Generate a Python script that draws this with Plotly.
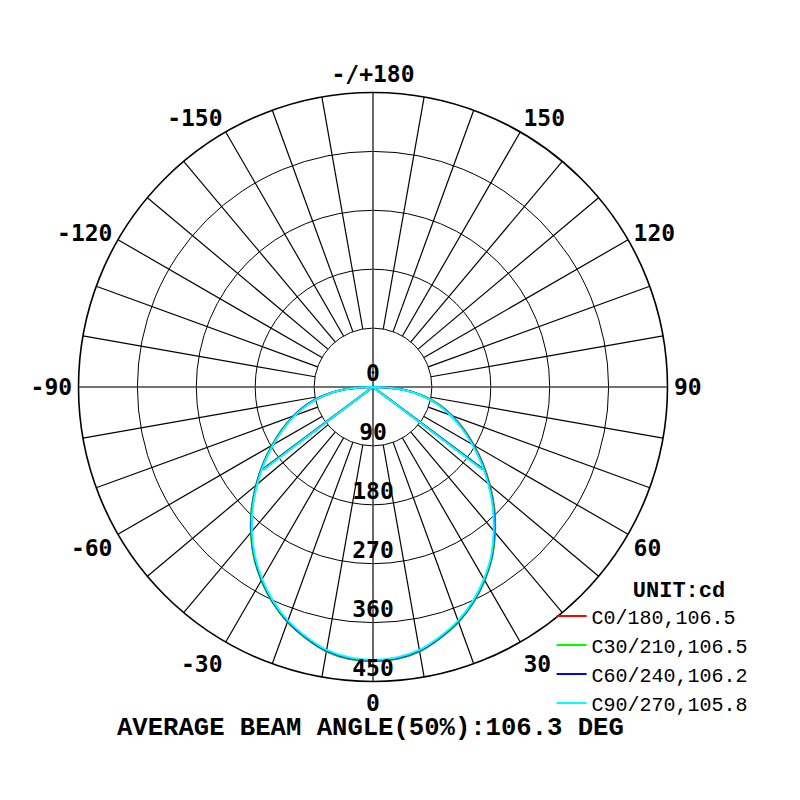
import plotly.graph_objects as go

# gamma angles (deg), negative side = C180/210/240/270 half, positive = C0/30/60/90 half
gamma = [-90, -85, -80, -75, -70, -65, -60, -55, -50, -45, -40, -35, -30, -25, -20, -15, -10, -5,
         0, 5, 10, 15, 20, 25, 30, 35, 40, 45, 50, 55, 60, 65, 70, 75, 80, 85, 90]

# intensities (cd)
c0_180 = [0, 46, 78, 105, 129, 153, 178, 205, 233, 262, 290, 317, 341, 363, 382, 397, 410, 417,
          419, 417, 410, 397, 382, 363, 341, 317, 290, 262, 233, 205, 178, 153, 129, 105, 78, 46, 0]
c30_210 = [0, 46, 78, 105, 129, 153, 178, 205, 233, 262, 290, 317, 341, 363, 382, 397, 410, 417,
           419, 417, 410, 397, 382, 363, 341, 317, 289, 261, 232, 204, 177, 152, 128, 104, 77, 45, 0]
c60_240 = [0, 45, 77, 104, 128, 152, 177, 204, 232, 261, 289, 316, 340, 362, 381, 396, 409, 416,
           418, 416, 409, 396, 381, 362, 340, 316, 288, 260, 231, 203, 176, 151, 127, 103, 76, 45, 0]
c90_270 = [0, 45, 76, 103, 127, 151, 176, 203, 231, 260, 288, 315, 339, 361, 380, 395, 408, 415,
           417, 415, 408, 395, 380, 361, 339, 315, 287, 259, 230, 202, 175, 150, 126, 102, 75, 44, 0]

names = ["C0/180,106.5", "C30/210,106.5", "C60/240,106.2", "C90/270,105.8"]
beam = [106.5, 106.5, 106.2, 105.8]
colors = ["#ff0000", "#00ff00", "#0000ff", "#00ffff"]

ring_vals = [90, 180, 270, 360, 450]
ring_text = ["0", "90", "180", "270", "360", "450"]
ang_ticks = [0, 30, 60, 90, 120, 150, 180, 210, 240, 270, 300, 330]
ang_text = ["0", "30", "60", "90", "120", "150", "-/+180", "-150", "-120", "-90", "-60", "-30"]

fig = go.Figure()

# spokes every 10 deg, from the inner ring out (main axes go through the centre)
sp_t, sp_r = [], []
for a in range(0, 360, 10):
    if a % 90 == 0:
        continue
    sp_t += [a, a, None]
    sp_r += [ring_vals[0], ring_vals[-1], None]
fig.add_trace(go.Scatterpolar(r=sp_r, theta=sp_t, mode="lines", line=dict(color="black", width=1.2),
                              showlegend=False, hoverinfo="skip"))
ax_t, ax_r = [], []
for a in [0, 90, 180, 270]:
    ax_t += [a, a, None]
    ax_r += [0, ring_vals[-1], None]
fig.add_trace(go.Scatterpolar(r=ax_r, theta=ax_t, mode="lines", line=dict(color="#444", width=1.6),
                              showlegend=False, hoverinfo="skip"))

for vals, nm, bw, col in zip([c0_180, c30_210, c60_240, c90_270], names, beam, colors):
    fig.add_trace(go.Scatterpolar(r=vals, theta=gamma, mode="lines", name=nm,
                                  line=dict(color=col, width=2, shape="spline")))
    half = max(vals) / 2
    fig.add_trace(go.Scatterpolar(r=[half, 0, half], theta=[-bw / 2, 0, bw / 2], mode="lines",
                                  line=dict(color=col, width=2), showlegend=False, hoverinfo="skip"))

# radial labels along the 0 deg axis
fig.add_trace(go.Scatterpolar(r=[0] + ring_vals, theta=[0] * 6, mode="text", text=ring_text,
                              textposition="top center", showlegend=False, hoverinfo="skip",
                              textfont=dict(family="DejaVu Sans Mono", size=23, color="black",
                                            weight="bold")))

fig.update_layout(
    width=800, height=800,
    paper_bgcolor="white",
    margin=dict(l=0, r=0, t=0, b=0),
    font=dict(family="DejaVu Sans Mono", size=23, color="black"),
    polar=dict(
        domain=dict(x=[0.088125, 0.824375], y=[0.158125, 0.894375]),
        bgcolor="white",
        radialaxis=dict(range=[0, 450], tickvals=ring_vals, showticklabels=False, ticks="",
                        showgrid=True, gridcolor="black", gridwidth=1.2, showline=False),
        angularaxis=dict(rotation=-90, direction="counterclockwise", tickmode="array",
                         tickvals=ang_ticks, ticktext=ang_text, showgrid=False,
                         showline=True, linecolor="black", linewidth=1.6,
                         ticks="outside", ticklen=1, tickcolor="rgba(0,0,0,0)",
                         tickfont=dict(family="DejaVu Sans Mono", size=23, color="black",
                                       weight="bold")),
    ),
    legend=dict(x=0.6795, y=0.30, xanchor="left", yanchor="top", bgcolor="rgba(0,0,0,0)",
                font=dict(family="Liberation Mono", size=20, color="black"),
                title=dict(text="&nbsp;&nbsp;&nbsp;&nbsp;<b>UNIT:cd</b>", side="top center",
                           font=dict(family="Liberation Mono", size=22, color="black")),
                tracegroupgap=0),
    annotations=[dict(text="<b>AVERAGE BEAM ANGLE(50%):106.3 DEG</b>", x=0.4531, y=0.099,
                      xanchor="center", yanchor="middle",
                      xref="paper", yref="paper", showarrow=False,
                      font=dict(family="Liberation Mono", size=25.6, color="black"))],
)

fig.write_html("out.html")
